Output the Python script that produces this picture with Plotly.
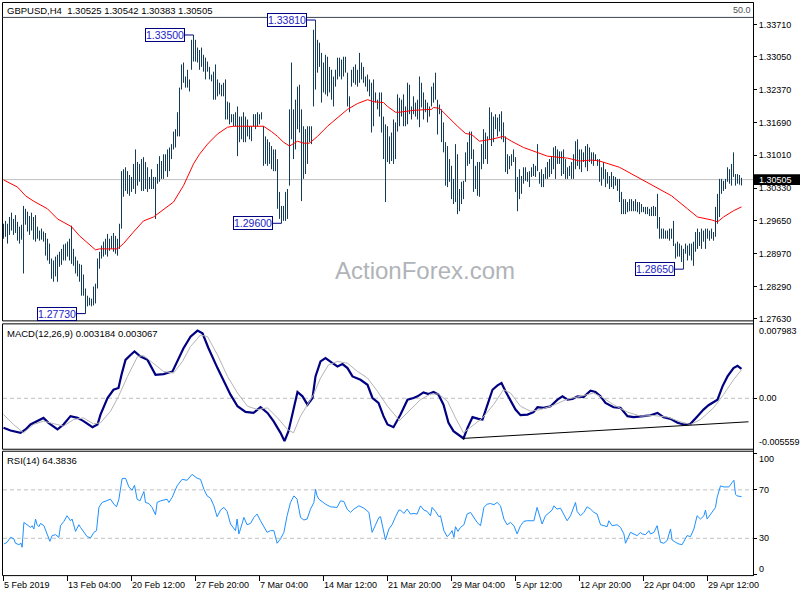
import plotly.graph_objects as go

# ---------------- data ----------------
highs = [
1.2959,1.2965,1.2959,1.2973,1.2982,1.2969,1.2977,1.2963,1.2953,1.2957,
1.2996,1.2990,1.2984,1.2975,1.2982,1.2973,1.2977,1.2953,1.2945,1.2949,
1.2943,1.2940,1.2928,1.2918,1.2887,1.2883,1.2891,1.2895,1.2901,1.2907,
1.2916,1.2918,1.2922,1.2928,1.2955,1.2907,1.2891,1.2883,1.2876,1.2874,
1.2854,1.2825,1.2810,1.2806,1.2804,1.2829,1.2835,1.2887,1.2901,1.2914,
1.2922,1.2928,1.2938,1.2928,1.2934,1.2940,1.2934,1.2928,1.2959,1.3068,
1.3072,1.3076,1.3068,1.3060,1.3056,1.3083,1.3113,1.3087,1.3083,1.3093,
1.3097,1.3087,1.3076,1.3056,1.3072,1.3056,1.3056,1.3083,1.3099,1.3089,
1.3103,1.3103,1.3113,1.3117,1.3124,1.3150,1.3155,1.3190,1.3241,1.3289,
1.3293,1.3264,1.3278,1.3258,1.3340,1.3350,1.3340,1.3324,1.3319,1.3324,
1.3309,1.3303,1.3295,1.3284,1.3268,1.3274,1.3289,1.3258,1.3251,1.3247,
1.3251,1.3258,1.3212,1.3210,1.3186,1.3186,1.3190,1.3202,1.3181,1.3181,
1.3190,1.3181,1.3175,1.3161,1.3161,1.3186,1.3186,1.3190,1.3186,1.3190,
1.3161,1.3140,1.3134,1.3128,1.3120,1.3113,1.3113,1.3093,1.3025,1.2996,
1.2996,1.3025,1.3031,1.3196,1.3293,1.3196,1.3216,1.3243,1.3247,1.3196,
1.3161,1.3155,1.3161,1.3161,1.3161,1.3361,1.3381,1.3340,1.3334,1.3313,
1.3293,1.3309,1.3305,1.3284,1.3278,1.3264,1.3278,1.3303,1.3303,1.3299,
1.3305,1.3305,1.3272,1.3223,1.3278,1.3284,1.3289,1.3278,1.3313,1.3293,
1.3284,1.3264,1.3268,1.3258,1.3251,1.3258,1.3231,1.3216,1.3231,1.3231,
1.3181,1.3165,1.3161,1.3140,1.3148,1.3175,1.3169,1.3227,1.3220,1.3216,
1.3227,1.3202,1.3251,1.3247,1.3202,1.3223,1.3210,1.3216,1.3264,1.3251,
1.3231,1.3216,1.3210,1.3202,1.3243,1.3251,1.3272,1.3216,1.3206,1.3196,
1.3169,1.3128,1.3120,1.3093,1.3079,1.3052,1.3124,1.3103,1.3031,1.3046,
1.3048,1.3107,1.3128,1.3150,1.3150,1.3113,1.3079,1.3087,1.3087,1.3124,
1.3155,1.3148,1.3140,1.3200,1.3190,1.3181,1.3186,1.3179,1.3186,1.3192,
1.3169,1.3140,1.3103,1.3099,1.3103,1.3113,1.3097,1.3056,1.3072,1.3058,
1.3076,1.3076,1.3066,1.3068,1.3076,1.3083,1.3079,1.3124,1.3066,1.3072,
1.3062,1.3076,1.3087,1.3093,1.3099,1.3117,1.3120,1.3113,1.3109,1.3109,
1.3113,1.3093,1.3076,1.3079,1.3087,1.3103,1.3130,1.3134,1.3113,1.3113,
1.3107,1.3120,1.3124,1.3117,1.3107,1.3107,1.3103,1.3093,1.3093,1.3076,
1.3087,1.3072,1.3066,1.3058,1.3066,1.3058,1.3056,1.3052,1.3052,1.3025,
1.3010,1.3010,1.3004,1.3010,1.3010,1.3006,1.3010,1.3004,1.3004,1.3000,
1.2994,1.2994,1.2994,1.2990,1.2994,1.2996,1.2994,1.3021,1.2973,1.2949,
1.2949,1.2945,1.2945,1.2949,1.2949,1.2965,1.2918,1.2922,1.2918,1.2914,
1.2907,1.2918,1.2914,1.2918,1.2918,1.2922,1.2942,1.2949,1.2942,1.2949,
1.2945,1.2949,1.2949,1.2945,1.2949,1.2942,1.2994,1.3021,1.3052,1.3052,
1.3048,1.3052,1.3076,1.3072,1.3083,1.3107,1.3062,1.3062,1.3060,1.30542]

lows = [
1.2928,1.2932,1.2918,1.2936,1.2945,1.2936,1.2940,1.2924,1.2918,1.2926,
1.2856,1.2957,1.2943,1.2936,1.2945,1.2926,1.2922,1.2928,1.2924,1.2926,
1.2922,1.2893,1.2883,1.2876,1.2845,1.2839,1.2850,1.2839,1.2870,1.2874,
1.2883,1.2883,1.2891,1.2883,1.2876,1.2872,1.2856,1.2850,1.2839,1.2810,
1.2810,1.2773,1.2788,1.2790,1.2788,1.2790,1.2794,1.2825,1.2866,1.2887,
1.2891,1.2895,1.2891,1.2903,1.2907,1.2901,1.2897,1.2893,1.2907,1.2949,
1.3015,1.3027,1.3021,1.3017,1.3025,1.3031,1.3021,1.3038,1.3046,1.3027,
1.3027,1.3031,1.3025,1.3031,1.3031,1.3031,1.2969,1.3042,1.3046,1.3052,
1.3052,1.3068,1.3056,1.3068,1.3093,1.3113,1.3117,1.3140,1.3140,1.3237,
1.3251,1.3241,1.3241,1.3233,1.3278,1.3295,1.3295,1.3293,1.3278,1.3284,
1.3274,1.3258,1.3274,1.3258,1.3254,1.3216,1.3216,1.3223,1.3227,1.3223,
1.3223,1.3175,1.3175,1.3165,1.3169,1.3161,1.3161,1.3099,1.3128,1.3134,
1.3128,1.3128,1.3140,1.3134,1.3130,1.3161,1.3155,1.3161,1.3165,1.3175,
1.3079,1.3083,1.3079,1.3083,1.3072,1.3068,1.3068,1.2990,1.2969,1.2960,
1.2965,1.2965,1.2969,1.3038,1.3134,1.3093,1.3113,1.3155,1.3148,1.3006,
1.3052,1.3062,1.3083,1.3128,1.3124,1.3202,1.3237,1.3272,1.3284,1.3210,
1.3231,1.3227,1.3223,1.3231,1.3216,1.3202,1.3243,1.3258,1.3264,1.3258,
1.3264,1.3272,1.3202,1.3190,1.3243,1.3251,1.3247,1.3243,1.3251,1.3258,
1.3251,1.3243,1.3233,1.3223,1.3148,1.3161,1.3210,1.3196,1.3181,1.3148,
1.3093,1.3004,1.3087,1.3083,1.3089,1.3083,1.3093,1.3150,1.3161,1.3181,
1.3161,1.3161,1.3165,1.3186,1.3175,1.3186,1.3181,1.3175,1.3159,1.3200,
1.3175,1.3190,1.3169,1.3181,1.3202,1.3210,1.3216,1.3144,1.3186,1.3128,
1.3107,1.3038,1.3035,1.3046,1.3010,1.3000,1.3004,1.2979,1.2985,1.3000,
1.3010,1.3046,1.3079,1.3083,1.3093,1.3025,1.3031,1.3017,1.3015,1.3072,
1.3083,1.3093,1.3083,1.3134,1.3120,1.3128,1.3155,1.3140,1.3150,1.3134,
1.3128,1.3066,1.3062,1.3072,1.3079,1.3087,1.3025,1.2985,1.3010,1.3021,
1.3042,1.3048,1.3046,1.3035,1.3056,1.3058,1.3056,1.3068,1.3042,1.3035,
1.3035,1.3052,1.3052,1.3056,1.3062,1.3072,1.3052,1.3083,1.3083,1.3058,
1.3062,1.3052,1.3052,1.3058,1.3052,1.3052,1.3072,1.3079,1.3072,1.3066,
1.3087,1.3076,1.3068,1.3087,1.3083,1.3079,1.3089,1.3079,1.3046,1.3038,
1.3052,1.3035,1.3042,1.3031,1.3035,1.3031,1.3038,1.3027,1.3004,1.2979,
1.2979,1.2979,1.2983,1.2985,1.2985,1.2985,1.2985,1.2983,1.2979,1.2983,
1.2983,1.2979,1.2979,1.2975,1.2975,1.2975,1.2975,1.2949,1.2928,1.2928,
1.2928,1.2928,1.2928,1.2924,1.2928,1.2913,1.2887,1.2891,1.2891,1.2880,
1.2865,1.2897,1.2883,1.2893,1.2883,1.2872,1.2901,1.2907,1.2913,1.2907,
1.2922,1.2907,1.2928,1.2924,1.2928,1.2924,1.2932,1.2959,1.2973,1.3021,
1.3027,1.3031,1.3046,1.3042,1.3038,1.3056,1.3038,1.3042,1.3040,1.30383]

ma_idx = [0,7,11,15,22,27,34,38,46,48,57,60,65,70,75,82,85,90,95,98,
          102,107,112,115,130,134,137,140,143,147,150,153,157,162,167,172,177,182,185,190,
          192,196,198,205,214,215,218,222,227,231,234,238,244,250,254,260,267,272,282,288,
          294,298,308,317,325,334,342,347,354,357,360,365,369]
ma_val = [1.3050,1.3035,1.3017,1.3006,1.2990,1.2969,1.2953,1.2934,1.2905,1.2907,
          1.2907,1.2918,1.2942,1.2965,1.2973,1.2994,1.3004,1.3038,1.3083,1.3103,
          1.3124,1.3145,1.3159,1.3161,1.3161,1.3150,1.3140,1.3128,1.3120,1.3130,
          1.3126,1.3126,1.3140,1.3161,1.3179,1.3196,1.3208,1.3216,1.3212,1.3210,
          1.3202,1.3190,1.3190,1.3194,1.3196,1.3200,1.3198,1.3181,1.3161,1.3146,
          1.3144,1.3130,1.3134,1.3140,1.3130,1.3117,1.3107,1.3099,1.3095,1.3089,
          1.3091,1.3089,1.3076,1.3056,1.3038,1.3017,1.2990,1.2973,1.2967,1.2963,
          1.2973,1.2986,1.2994]

macd_idx = [0,3.5,8.5,11,13.5,17,20,22.5,27,30,33.5,37,40,44.5,47,48.5,52,55,57.5,59,
            61,63.5,65.5,68.5,72,76,80,84.5,87,90,93.5,97,99.5,102.5,107,110,113.5,117,121,125,
            128.5,132,135,138.5,140.5,142.5,145,147,149.5,152,154.5,156,158.5,161,164.5,167,169.5,172,174.5,178.5,
            182,184.5,187.5,190,192,195,198.5,202,205,207,210,212.5,215,217.5,220,222.5,225,227.5,230,232,
            234.5,237.5,239.5,242,244.5,247,249,251,253.5,256,258.5,262,265,267,270,273.5,277,279.5,282,284.5,
            287,290,293.5,296,298.5,301,305,308.5,312,315,320,323.5,327,330,333.5,337,340,343.5,347,350,
            352.5,357,359.5,362,365,367,369]
macd_val = [-0.00319,-0.00348,-0.00373,-0.00337,-0.00283,-0.00247,-0.00212,-0.00265,-0.00337,-0.00283,
            -0.00193,-0.00212,-0.00247,-0.00312,-0.00283,-0.00176,0.00003,0.00092,0.00111,0.00254,
            0.00415,0.00468,0.00505,0.00451,0.00415,0.00254,0.00261,0.00290,0.00398,0.00540,
            0.00666,0.00731,0.00702,0.00540,0.00326,0.00200,0.00039,-0.00086,-0.00147,-0.00158,
            -0.00097,-0.00158,-0.00247,-0.00373,-0.00462,-0.00355,-0.00104,0.00068,0.00021,-0.00069,
            0.00003,0.00236,0.00398,0.00433,0.00379,0.00344,0.00369,0.00326,0.00236,0.00200,
            0.00146,0.00003,-0.00050,-0.00193,-0.00283,-0.00312,-0.00176,-0.00015,0.00003,0.00021,
            0.00064,0.00046,0.00068,0.00039,-0.00069,-0.00265,-0.00355,-0.00398,-0.00434,-0.00319,
            -0.00204,-0.00222,-0.00230,-0.00069,0.00092,0.00140,0.00164,0.00075,-0.00032,-0.00122,
            -0.00183,-0.00176,-0.00150,-0.00097,-0.00104,-0.00086,-0.00015,0.00021,-0.00015,-0.00008,
            0.00021,0.00014,0.00082,0.00068,0.00021,-0.00050,-0.00097,-0.00104,-0.00193,-0.00204,
            -0.00193,-0.00183,-0.00158,-0.00204,-0.00222,-0.00265,-0.00283,-0.00276,-0.00193,-0.00122,
            -0.00075,-0.00015,0.00129,0.00236,0.00326,0.00350,0.003184]

sig_idx = [0,5,10,15,20,25,30,35,40,45,48.5,53.5,57.5,62,67,70,75,80,85,89.5,
           93.5,98.5,102,107,112,117,122,127,132,137,142,145,148.5,152,155,158.5,162.5,167,172,177,
           182,187,192,198,203.5,208.5,213.5,217.5,222,226,230,234.5,239.5,245,250,253.5,258.5,263.5,268.5,275,
           282,288.5,295,300,305,312,318.5,325,332,338.5,343.5,348.5,355,360,365,369]
sig_val = [-0.00176,-0.00283,-0.00373,-0.00283,-0.00247,-0.00276,-0.00301,-0.00230,-0.00212,-0.00276,
           -0.00265,-0.00140,0.00021,0.00236,0.00451,0.00462,0.00379,0.00290,0.00272,0.00398,
           0.00559,0.00683,0.00666,0.00468,0.00236,0.00057,-0.00086,-0.00122,-0.00104,-0.00212,
           -0.00337,-0.00373,-0.00193,-0.00069,0.00039,0.00218,0.00361,0.00398,0.00379,0.00290,
           0.00218,0.00075,-0.00086,-0.00240,-0.00122,-0.00015,0.00046,0.00046,-0.00032,-0.00212,
           -0.00373,-0.00301,-0.00212,-0.00069,0.00092,0.00057,-0.00086,-0.00140,-0.00122,-0.00075,
           -0.00008,0.00021,0.00057,0.00003,-0.00069,-0.00150,-0.00193,-0.00186,-0.00204,-0.00254,
           -0.00283,-0.00230,-0.00104,0.00039,0.00200,0.003067]

trend_idx = [229.5, 372.5]
trend_val = [-0.00434, -0.00254]

rsi_idx = [0.2,1.8,3.5,5.2,6.0,7.7,8.8,9.3,10.2,11.8,13.5,14.3,15.2,16.0,16.8,17.7,18.5,20.2,21.8,23.2,
           24.3,26.0,27.7,28.5,30.2,31.8,33.5,34.3,36.0,37.7,38.5,40.2,41.8,43.5,45.2,46.5,47.7,49.3,51.8,53.5,
           55.2,56.5,57.7,59.3,61.0,62.7,64.3,65.5,66.8,68.2,70.2,71.0,72.7,74.3,76.0,76.8,78.5,81.8,82.7,84.3,
           86.8,89.3,91.8,94.3,96.8,98.5,100.2,101.8,103.5,105.2,106.8,108.5,110.2,111.8,113.5,116.0,116.8,117.7,118.5,120.2,
           121.8,123.5,125.2,126.8,128.5,130.2,131.8,133.5,135.2,136.8,138.5,140.2,141.8,143.5,145.2,146.8,148.5,150.2,151.8,153.5,
           155.2,156.0,156.8,157.7,159.3,161.0,163.5,165.2,166.8,168.5,170.2,171.8,173.5,175.2,177.7,180.2,182.7,184.3,186.0,187.7,
           188.5,189.3,191.0,192.7,194.3,196.0,197.7,
           198.5,200.2,201.8,203.5,205.2,206.8,208.5,210.2,211.8,213.5,
           214.3,216.0,217.7,218.5,220.2,221.8,223.2,224.3,225.2,226.0,
           227.2,228.5,230.2,231.8,233.5,235.2,236.8,238.5,240.2,241.8,
           243.5,245.2,246.8,248.5,250.2,251.8,253.5,255.2,256.8,258.5,
           260.2,261.8,263.5,265.2,266.8,267.7,269.3,271.0,272.7,274.3,
           275.2,276.8,278.5,280.2,281.8,283.5,285.2,286.0,286.8,288.5,
           290.2,291.8,293.5,295.2,296.8,298.5,300.2,301.8,302.7,304.3,
           306.8,308.5,310.2,311.0,313.5,315.2,316.8,318.5,319.3,321.0,
           322.7,323.5,325.2,326.8,327.7,328.5,330.2,331.8,333.5,334.3,
           336.0,337.7,339.3,341.0,341.8,343.5,345.2,346.8,348.5,350.2,
           351.0,351.8,353.5,356.0,356.8,358.5,360.2,362.7,364.3,365.2,
           366.0,366.8,369]
rsi_val = [25.3,26.7,30.8,29.5,25.9,24.8,25.9,22.6,43.1,41.2,39.0,40.4,37.7,45.9,41.2,39.6,42.3,40.4,33.6,27.5,
           32.2,33.0,30.8,40.4,44.0,48.6,44.5,45.9,35.7,41.2,39.0,34.9,31.4,30.3,34.9,36.3,55.5,59.6,61.5,62.3,
           58.2,56.0,62.3,79.3,79.6,72.4,69.7,73.8,62.3,60.9,68.6,59.6,58.7,55.5,49.4,59.6,60.9,62.3,59.6,63.7,
           73.3,78.7,77.9,82.8,79.6,78.7,70.5,65.0,63.1,56.8,47.8,53.3,55.5,52.2,41.8,36.3,45.9,33.6,37.7,47.2,
           41.2,42.3,47.2,50.0,44.5,39.0,34.9,36.3,36.3,25.9,29.5,34.9,48.6,59.6,65.0,62.3,47.2,45.1,45.9,54.1,
           59.6,70.5,65.0,62.3,60.4,58.2,56.0,56.0,55.5,60.9,60.4,54.1,51.4,54.1,56.8,54.9,51.4,34.9,41.2,47.2,
           47.8,41.8,28.6,37.7,41.2,47.8,53.3,
           53.3,50.5,54.1,50.0,50.5,50.0,56.8,53.3,52.2,48.6,
           55.5,52.2,47.8,48.6,36.3,31.4,33.6,36.3,30.8,39.6,
           35.7,39.0,41.2,50.0,51.4,46.7,43.1,40.4,55.5,58.2,
           58.7,57.7,59.6,56.8,45.9,41.2,43.1,40.4,33.6,40.4,
           44.0,44.5,44.5,44.5,55.5,50.0,41.8,48.6,51.4,53.3,
           56.8,54.1,54.9,49.4,44.5,48.6,55.5,59.6,52.2,48.6,
           51.4,56.0,54.1,51.4,50.0,41.2,40.4,39.6,44.5,40.4,
           41.2,39.0,33.6,25.9,34.9,33.6,32.2,34.9,33.6,33.0,
           36.3,33.6,34.9,40.4,33.6,26.7,25.9,28.1,37.7,28.6,
           26.7,25.3,24.8,30.8,32.2,31.4,37.7,48.6,45.9,48.6,
           53.3,45.9,50.0,55.5,63.7,73.3,72.4,72.4,76.0,77.9,
           66.4,65.0,64.38]

price_ticks = [1.33710, 1.33050, 1.32370, 1.31690, 1.31010, 1.30330, 1.29650, 1.28970, 1.28290, 1.27630]
x_tick_idx = [0, 32, 64, 96, 128, 160, 192, 224, 256, 288, 320, 352]
x_tick_text = ["5 Feb 2019", "13 Feb 04:00", "20 Feb 12:00", "27 Feb 20:00", "7 Mar 04:00", "14 Mar 12:00",
               "21 Mar 20:00", "29 Mar 04:00", "5 Apr 12:00", "12 Apr 20:00", "22 Apr 04:00", "29 Apr 12:00"]
level_idx = [95, 156, 139, 41, 340]
level_val = [1.33500, 1.33810, 1.29600, 1.27730, 1.28650]
last_price = 1.30505
main_range = [1.27589, 1.34163]
macd_range = [-0.005559, 0.007983]
macd_labels = ["0.007983", "0.00", "-0.005559"]
rsi_levels = [30, 70]
rsi_labels = ["100", "70", "30", "0"]
header = "GBPUSD,H4  1.30525 1.30542 1.30383 1.30505"
macd_title = "MACD(12,26,9) 0.003184 0.003067"
rsi_title = "RSI(14) 64.3836"
watermark = "ActionForex.com"

# ---------------- helpers for layout (pixel -> paper) ----------------
W, H = 800, 600
def X(px):
    return px / W
def Y(py):
    return 1 - py / H

FONT = "Liberation Sans"
BAR_COLOR = "#123c5a"

# ---------------- traces ----------------
bx, by = [], []
for i, (h, l) in enumerate(zip(highs, lows)):
    bx += [i, i, None]
    by += [l, h, None]

fig = go.Figure()
fig.add_trace(go.Scatter(x=bx, y=by, mode="lines", line=dict(color=BAR_COLOR, width=1),
                         hoverinfo="skip", showlegend=False, xaxis="x", yaxis="y"))
fig.add_trace(go.Scatter(x=ma_idx, y=ma_val, mode="lines", line=dict(color="#ff0000", width=1),
                         showlegend=False, xaxis="x", yaxis="y"))
fig.add_trace(go.Scatter(x=macd_idx, y=macd_val, mode="lines", line=dict(color="#000080", width=2.2),
                         showlegend=False, xaxis="x", yaxis="y2"))
fig.add_trace(go.Scatter(x=sig_idx, y=sig_val, mode="lines", line=dict(color="#b4b4b4", width=1),
                         showlegend=False, xaxis="x", yaxis="y2"))
fig.add_trace(go.Scatter(x=trend_idx, y=trend_val, mode="lines", line=dict(color="#000000", width=1),
                         showlegend=False, xaxis="x", yaxis="y2"))
fig.add_trace(go.Scatter(x=rsi_idx, y=rsi_val, mode="lines", line=dict(color="#1e90ff", width=1),
                         showlegend=False, xaxis="x", yaxis="y3"))

shapes = []
annotations = []

# panel frames
for top, bot in [(2.5, 322.5), (325.5, 451.5), (453.5, 578.5)]:
    shapes.append(dict(type="rect", xref="paper", yref="paper", x0=X(2.5), x1=X(753.5),
                       y0=Y(bot), y1=Y(top), line=dict(color="black", width=1), layer="above"))
# top separator line under the header
shapes.append(dict(type="line", xref="paper", yref="paper", x0=X(2.5), x1=X(753.5),
                   y0=Y(17.5), y1=Y(17.5), line=dict(color="#3c4650", width=1)))
# current price line
shapes.append(dict(type="line", xref="paper", yref="y", x0=X(3), x1=X(753), y0=last_price, y1=last_price,
                   line=dict(color="#c0c0c0", width=1), layer="below"))
# MACD zero line
shapes.append(dict(type="line", xref="paper", yref="y2", x0=X(3), x1=X(753), y0=0, y1=0,
                   line=dict(color="#c0c0c0", width=1, dash="4px,3px"), layer="below"))
# RSI levels
for lv in rsi_levels:
    shapes.append(dict(type="line", xref="paper", yref="y3", x0=X(3), x1=X(753), y0=lv, y1=lv,
                       line=dict(color="#c0c0c0", width=1, dash="4px,3px"), layer="below"))

# level labels with connectors
for idx, val in zip(level_idx, level_val):
    shapes.append(dict(type="line", xref="x", yref="y", x0=idx - 4.5, x1=idx, y0=val, y1=val,
                       line=dict(color="#000080", width=1)))
    annotations.append(dict(xref="x", yref="y", x=idx, y=val, xanchor="right", yanchor="middle",
                            xshift=-9, text=f"{val:.5f}", showarrow=False,
                            font=dict(family=FONT, size=10.5, color="#1c1cc8"),
                            bgcolor="white", bordercolor="#000080", borderwidth=1, borderpad=0))

# current price box on the right axis
shapes.append(dict(type="rect", xref="paper", yref="paper", x0=X(754), x1=X(800), y0=Y(186), y1=Y(175),
                   fillcolor="black", line=dict(width=0), layer="above"))
annotations.append(dict(xref="paper", yref="paper", x=X(757), y=Y(180.5), xanchor="left", yanchor="middle",
                        text=f"{last_price:.5f}", showarrow=False,
                        font=dict(family=FONT, size=9, color="white")))

# MACD axis labels
for txt, py in zip(macd_labels, [333, 400, 444]):
    annotations.append(dict(xref="paper", yref="paper", x=X(757), y=Y(py), xanchor="left", yanchor="middle",
                            text=txt, showarrow=False, font=dict(family=FONT, size=9, color="black")))
# RSI axis labels
for txt, py in zip(rsi_labels, [461, 492, 541, 572]):
    annotations.append(dict(xref="paper", yref="paper", x=X(757), y=Y(py), xanchor="left", yanchor="middle",
                            text=txt, showarrow=False, font=dict(family=FONT, size=9, color="black")))

# x-axis labels (left aligned at their bar)
for idx, txt in zip(x_tick_idx, x_tick_text):
    annotations.append(dict(xref="x", yref="paper", x=idx, y=Y(588), xanchor="left", yanchor="middle",
                            xshift=-2, text=txt, showarrow=False, font=dict(family=FONT, size=9, color="black")))

# titles
annotations.append(dict(xref="paper", yref="paper", x=X(5), y=Y(10.5), xanchor="left", yanchor="middle",
                        text=header, showarrow=False, font=dict(family=FONT, size=9.5, color="black")))
annotations.append(dict(xref="paper", yref="paper", x=X(753), y=Y(10.5), xanchor="right", yanchor="middle",
                        text="50.0", showarrow=False, font=dict(family=FONT, size=9, color="#505050")))
annotations.append(dict(xref="paper", yref="paper", x=X(5), y=Y(335), xanchor="left", yanchor="middle",
                        text=macd_title, showarrow=False, font=dict(family=FONT, size=9.5, color="black")))
annotations.append(dict(xref="paper", yref="paper", x=X(5), y=Y(463), xanchor="left", yanchor="middle",
                        text=rsi_title, showarrow=False, font=dict(family=FONT, size=9.5, color="black")))
annotations.append(dict(xref="paper", yref="paper", x=X(425), y=Y(272), xanchor="center", yanchor="middle",
                        text=watermark, showarrow=False, font=dict(family=FONT, size=24, color="#b0b4b8")))

# right vertical axis line across all panels
shapes.append(dict(type="line", xref="paper", yref="paper", x0=X(753.5), x1=X(753.5), y0=Y(578.5), y1=Y(2.5),
                   line=dict(color="black", width=1), layer="above"))

fig.update_layout(
    width=W, height=H, autosize=False,
    margin=dict(l=0, r=0, t=0, b=0),
    paper_bgcolor="white", plot_bgcolor="white",
    showlegend=False,
    xaxis=dict(domain=[X(2), X(753)], range=[-0.75, 374.75], anchor="y3",
               showgrid=False, zeroline=False, showline=False,
               ticks="outside", ticklen=5, tickcolor="black", tickwidth=1,
               tickvals=x_tick_idx, showticklabels=False, fixedrange=True),
    yaxis=dict(domain=[Y(322), Y(3)], range=main_range, side="right", anchor="x",
               tickvals=price_ticks, ticktext=[f"{v:.5f}" for v in price_ticks],
               ticks="outside", ticklen=3, tickcolor="black",
               tickfont=dict(family=FONT, size=9, color="black"),
               showgrid=False, zeroline=False, showline=False, fixedrange=True),
    yaxis2=dict(domain=[Y(452), Y(326)], range=macd_range, side="right", anchor="x",
                tickvals=[0], ticks="outside", ticklen=3, tickcolor="black", showticklabels=False,
                showgrid=False, zeroline=False, showline=False, fixedrange=True),
    yaxis3=dict(domain=[Y(578), Y(453)], range=[-0.4, 102.3], side="right", anchor="x",
                tickvals=[0, 30, 70, 100], ticks="outside", ticklen=3, tickcolor="black",
                showticklabels=False, showgrid=False, zeroline=False, showline=False, fixedrange=True),
    shapes=shapes,
    annotations=annotations,
)

# remove the browser's default page margin so the 800x600 figure fills the window exactly
fig.write_html("out.html",
               config={"displayModeBar": False},
               post_script="document.body.style.margin='0';document.body.style.padding='0';"
                           "document.documentElement.style.overflow='hidden';")
